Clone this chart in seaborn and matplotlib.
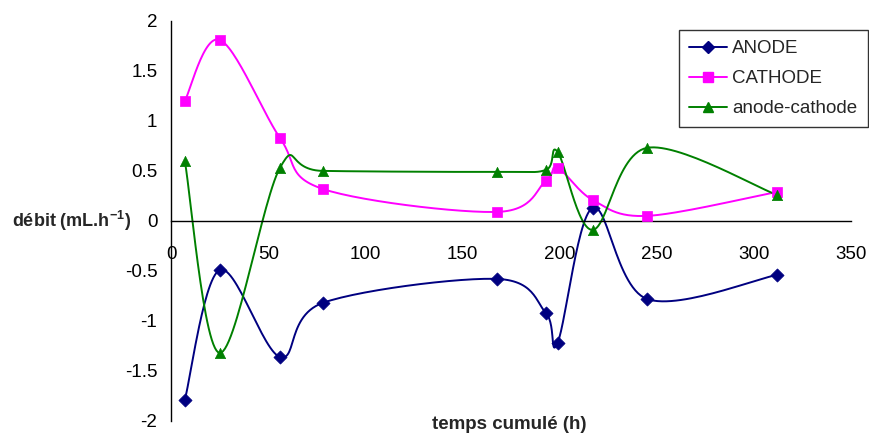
import numpy as np
import pandas as pd
import matplotlib
matplotlib.use("Agg")
import matplotlib.pyplot as plt
import seaborn as sns
from matplotlib.lines import Line2D

# data
temps = [7, 25, 56, 78, 168, 193, 199, 217, 245, 312]
anode = [-1.79, -0.49, -1.36, -0.82, -0.58, -0.92, -1.22, 0.13, -0.78, -0.54]
cathode = [1.20, 1.81, 0.83, 0.32, 0.09, 0.40, 0.53, 0.21, 0.05, 0.29]
anode_cathode = [0.60, -1.32, 0.53, 0.50, 0.49, 0.51, 0.69, -0.09, 0.73, 0.26]

series_names = ["ANODE", "CATHODE", "anode-cathode"]
colors = ["#000080", "#FF00FF", "#008000"]
markers = ["D", "s", "^"]


def smooth(x, y, n=30):
    # Excel-like smoothed line (Catmull-Rom through the points)
    p = np.column_stack([x, y]).astype(float)
    p = np.vstack([p[0], p, p[-1]])
    out = []
    for i in range(1, len(p) - 2):
        p0, p1, p2, p3 = p[i - 1], p[i], p[i + 1], p[i + 2]
        b1 = p1 + (p2 - p0) / 6
        b2 = p2 - (p3 - p1) / 6
        t = np.linspace(0, 1, n)[:, None]
        seg = ((1 - t) ** 3) * p1 + 3 * ((1 - t) ** 2) * t * b1 + 3 * (1 - t) * t ** 2 * b2 + t ** 3 * p2
        out.append(seg if i == 1 else seg[1:])
    return np.vstack(out)


sns.set_style("white")
plt.rcParams['font.family'] = ['Liberation Sans', 'DejaVu Sans']

fig = plt.figure(figsize=(8.69, 4.34), dpi=100)
ax = fig.add_axes([0.197, 0.030, 0.782, 0.922])

handles = []
for name, vals, c, m in zip(series_names, [anode, cathode, anode_cathode], colors, markers):
    curve = smooth(temps, vals)
    df_c = pd.DataFrame({"t": curve[:, 0], "v": curve[:, 1]})
    sns.lineplot(data=df_c, x="t", y="v", sort=False, estimator=None,
                 color=c, linewidth=1.4, ax=ax)
    df_p = pd.DataFrame({"t": temps, "v": vals})
    ms = 45 if m == "D" else 55
    sns.scatterplot(data=df_p, x="t", y="v", color=c, marker=m, s=ms, edgecolor=c,
                    linewidth=0.5, ax=ax, zorder=5)
    handles.append(Line2D([0], [0], color=c, marker=m, markersize=7 if m != "D" else 6,
                          linewidth=1.4, label=name))

ax.set_xlim(0, 350)
ax.set_ylim(-2, 2)
ax.set_xticks(np.arange(0, 351, 50))
ax.set_yticks(np.arange(-2, 2.01, 0.5))
ax.set_yticklabels(["-2", "-1.5", "-1", "-0.5", "0", "0.5", "1", "1.5", "2"])
ax.spines['left'].set_position(('data', 0))
ax.spines['bottom'].set_position(('data', 0))
ax.spines['right'].set_visible(False)
ax.spines['top'].set_visible(False)
for s in ['left', 'bottom']:
    ax.spines[s].set_color('black')
    ax.spines[s].set_linewidth(1.0)
ax.tick_params(axis='both', direction='out', length=4, width=1, color='black',
               labelsize=13.5, labelcolor='black')
ax.tick_params(axis='x', pad=14)
ax.tick_params(axis='y', pad=6)
ax.set_xlabel("")
ax.set_ylabel("")

fig.text(0.014, 0.491, "débit (mL.h$^{\\mathregular{-1}}$)", fontsize=13, fontweight='bold',
         ha='left', va='center')
fig.text(0.586, 0.002, "temps cumulé (h)", fontsize=13.5, fontweight='bold',
         ha='center', va='bottom')

leg = ax.legend(handles=handles, loc='upper left', bbox_to_anchor=(0.781, 0.931),
                bbox_transform=fig.transFigure, fontsize=13.5, frameon=True,
                fancybox=False, borderpad=0.55, labelspacing=0.68, handlelength=2.0,
                handletextpad=0.3, borderaxespad=0)
leg.get_frame().set_edgecolor('black')
leg.get_frame().set_linewidth(1.0)

fig.savefig("out.png", dpi=100)
